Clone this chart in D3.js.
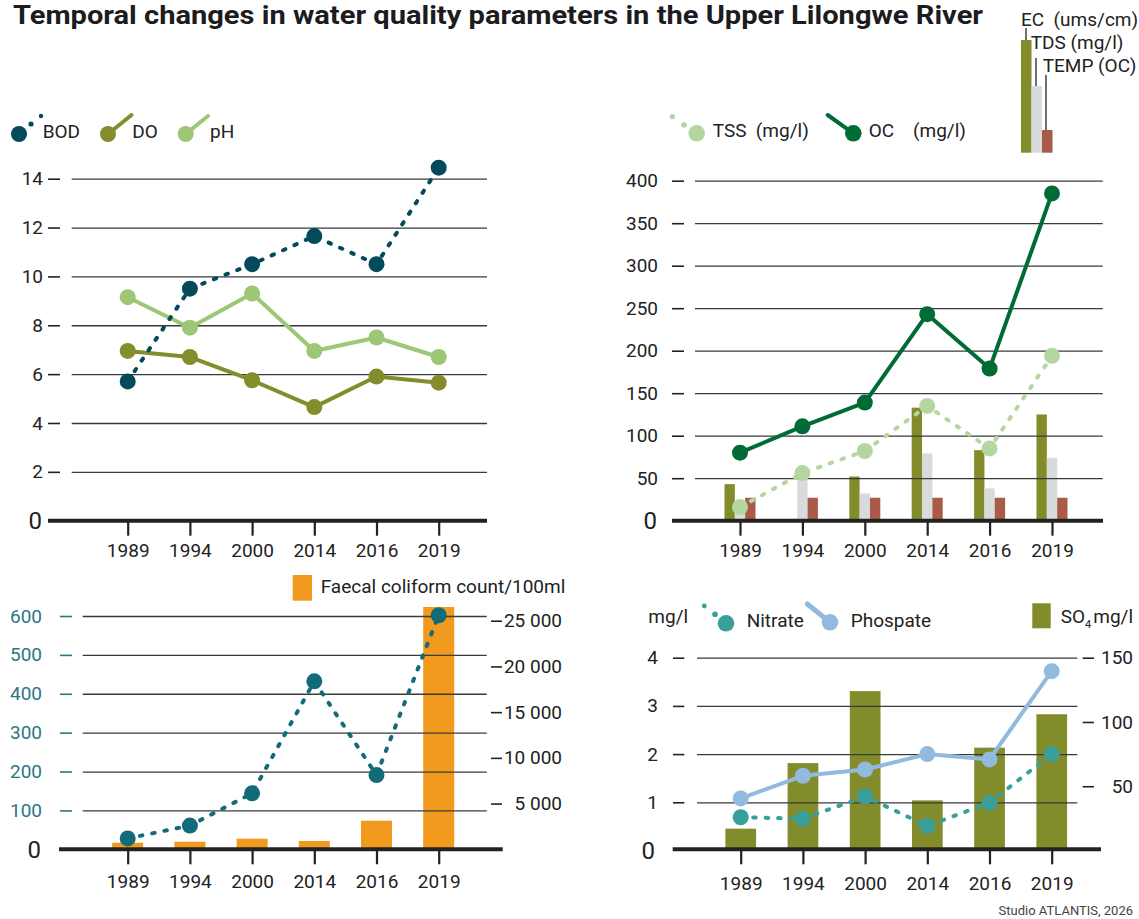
<!DOCTYPE html>
<html>
<head>
<meta charset="utf-8">
<script src="https://cdn.jsdelivr.net/npm/d3@7"></script>
<style>
  body { margin: 0; background: #fff; }
  svg { font-family: Roboto, "Noto Sans", sans-serif; }
  .tick text { font-family: Roboto, sans-serif; }
</style>
</head>
<body>
<div id="chart"></div>
<script>
// categories
var years = ["1989", "1994", "2000", "2014", "2016", "2019"];

// top left panel
var bod = [5.7, 9.5, 10.5, 11.65, 10.5, 14.45];
var doVals = [6.95, 6.7, 5.75, 4.65, 5.9, 5.65];
var ph = [9.15, 7.9, 9.3, 6.95, 7.5, 6.7];
var tlTicks = [2, 4, 6, 8, 10, 12, 14];

// top right panel
var tss = [16, 56, 82, 135, 85, 194];
var oc = [80, 111, 139, 243, 179, 385];
var ec = [43, 0, 52, 133, 83, 125];
var tds = [20, 52, 32, 79, 38, 74];
var temp = [27, 27, 27, 27, 27, 27];
var trTicks = [50, 100, 150, 200, 250, 300, 350, 400];

// bottom left panel
var faecal = [720, 830, 1160, 910, 3130, 26500];
var tealLine = [28, 61, 144, 432, 191, 602];
var blTicksLeft = [100, 200, 300, 400, 500, 600];
var blTicksRight = [5000, 10000, 15000, 20000, 25000];

// bottom right panel
var nitrate = [0.69, 0.66, 1.12, 0.51, 0.99, 2.0];
var phosphate = [1.08, 1.55, 1.68, 2.0, 1.89, 3.72];
var so4 = [17, 68, 124, 39, 80, 106];
var brTicksLeft = [1, 2, 3, 4];
var brTicksRight = [50, 100, 150];

var ink = "#222";
var gridCol = "#3a3a3a";
var fs = 19;

var svg = d3.select("#chart").append("svg")
    .attr("width", 1139)
    .attr("height", 919);

// title
svg.append("text")
    .attr("x", 13)
    .attr("y", 24)
    .attr("font-size", 25)
    .attr("font-weight", "bold")
    .attr("fill", "#1c1c1e")
    .attr("textLength", 970)
    .attr("lengthAdjust", "spacingAndGlyphs")
    .text("Temporal changes in water quality parameters in the Upper Lilongwe River");

// footer
svg.append("text")
    .attr("x", 1133)
    .attr("y", 915)
    .attr("text-anchor", "end")
    .attr("font-size", 13)
    .attr("fill", "#444")
    .text("Studio ATLANTIS, 2026");

function styleAxis(g, col) {
    g.select(".domain").remove();
    g.selectAll(".tick line").attr("stroke", col || ink).attr("stroke-width", 1.6);
    g.selectAll(".tick text").attr("font-size", fs).attr("fill", col || ink);
}

function grid(y, ticks, x0, x1) {
    var g = svg.append("g")
        .attr("transform", "translate(" + x0 + ",0)")
        .call(d3.axisLeft(y).tickValues(ticks).tickSize(-(x1 - x0)).tickFormat(""));
    g.select(".domain").remove();
    g.selectAll(".tick line").attr("stroke", gridCol).attr("stroke-width", 1.3);
}

function baseline(y0, x0, x1) {
    svg.append("line")
        .attr("x1", x0).attr("x2", x1)
        .attr("y1", y0).attr("y2", y0)
        .attr("stroke", ink)
        .attr("stroke-width", 4);
}

function xAxis(x, y0, labelY) {
    var g = svg.append("g")
        .attr("transform", "translate(0," + y0 + ")")
        .call(d3.axisBottom(x).tickSize(15));
    styleAxis(g);
    g.selectAll(".tick line").attr("stroke-width", 2.2);
    g.selectAll(".tick text").attr("dy", 0).attr("y", labelY - y0);
}

function zeroLabel(xr, y0, col) {
    svg.append("text")
        .attr("x", xr)
        .attr("y", y0)
        .attr("dy", "0.36em")
        .attr("text-anchor", "end")
        .attr("font-size", 24)
        .attr("fill", col || ink)
        .text("0");
}

function linePath(x, y, vals, col, dotted) {
    var line = d3.line()
        .x(function(d, i) { return x(years[i]); })
        .y(function(d) { return y(d); });
    var p = svg.append("path")
        .datum(vals)
        .attr("fill", "none")
        .attr("stroke", col)
        .attr("stroke-width", 4)
        .attr("stroke-linejoin", "round")
        .attr("stroke-linecap", "round")
        .attr("d", line);
    if (dotted) p.attr("stroke-dasharray", "2.5 10");
    svg.append("g").selectAll("circle")
        .data(vals)
        .enter().append("circle")
        .attr("cx", function(d, i) { return x(years[i]); })
        .attr("cy", function(d) { return y(d); })
        .attr("r", 8)
        .attr("fill", col);
}

function legendText(x, y, t, size) {
    return svg.append("text")
        .attr("x", x).attr("y", y)
        .attr("font-size", size || fs)
        .attr("fill", ink)
        .style("white-space", "pre")
        .text(t);
}

// ---------- top left ----------
var x1 = d3.scalePoint().domain(years).range([127.7, 438.7]);
var y1 = d3.scaleLinear().domain([0, 14]).range([520.7, 178.7]);

var tlAxis = svg.append("g")
    .attr("transform", "translate(60,0)")
    .call(d3.axisLeft(y1).tickValues(tlTicks).tickSize(12).tickPadding(5));
styleAxis(tlAxis);
zeroLabel(42, y1(0));
grid(y1, tlTicks, 71.7, 487);

linePath(x1, y1, ph, "#9dc675", false);
linePath(x1, y1, doVals, "#848c2b", false);
linePath(x1, y1, bod, "#034a5a", true);

baseline(y1(0), 48, 487);
xAxis(x1, y1(0), 557);

// legend
svg.append("circle").attr("cx", 19).attr("cy", 134).attr("r", 8).attr("fill", "#034a5a");
svg.append("circle").attr("cx", 31).attr("cy", 124).attr("r", 2.6).attr("fill", "#034a5a");
svg.append("circle").attr("cx", 41).attr("cy", 116).attr("r", 2.2).attr("fill", "#034a5a");
legendText(42.7, 137.5, "BOD");
svg.append("line").attr("x1", 108).attr("y1", 134).attr("x2", 131.5).attr("y2", 115)
    .attr("stroke", "#848c2b").attr("stroke-width", 4).attr("stroke-linecap", "round");
svg.append("circle").attr("cx", 108).attr("cy", 134).attr("r", 8).attr("fill", "#848c2b");
legendText(132.3, 137.5, "DO");
svg.append("line").attr("x1", 185.7).attr("y1", 134).attr("x2", 208).attr("y2", 116)
    .attr("stroke", "#9dc675").attr("stroke-width", 4).attr("stroke-linecap", "round");
svg.append("circle").attr("cx", 185.7).attr("cy", 134).attr("r", 8).attr("fill", "#9dc675");
legendText(210, 137.5, "pH");

// ---------- top right ----------
var x2 = d3.scalePoint().domain(years).range([740, 1052]);
var y2 = d3.scaleLinear().domain([0, 400]).range([520.7, 180.7]);
var sub = d3.scaleBand().domain(["ec", "tds", "temp"]).range([-15.5, 15.5]);
var barCols = { ec: "#838c2a", tds: "#d9dadb", temp: "#a95a48" };
var barSets = { ec: ec, tds: tds, temp: temp };

var trAxis = svg.append("g")
    .attr("transform", "translate(684,0)")
    .call(d3.axisLeft(y2).tickValues(trTicks).tickSize(12).tickPadding(14));
styleAxis(trAxis);
zeroLabel(657, y2(0));

sub.domain().forEach(function(k) {
    svg.append("g").selectAll("rect")
        .data(barSets[k])
        .enter().append("rect")
        .attr("x", function(d, i) { return x2(years[i]) + sub(k); })
        .attr("width", sub.bandwidth())
        .attr("y", function(d) { return y2(d); })
        .attr("height", function(d) { return y2(0) - y2(d); })
        .attr("fill", barCols[k]);
});
grid(y2, trTicks, 695, 1102.7);

linePath(x2, y2, tss, "#b5d6a0", true);
linePath(x2, y2, oc, "#006b35", false);

baseline(y2(0), 672, 1103);
xAxis(x2, y2(0), 557);

// legend lines
svg.append("circle").attr("cx", 672.3).attr("cy", 116.7).attr("r", 2.6).attr("fill", "#b5d6a0");
svg.append("circle").attr("cx", 684).attr("cy", 125).attr("r", 2.8).attr("fill", "#b5d6a0");
svg.append("circle").attr("cx", 696.7).attr("cy", 133.3).attr("r", 8.3).attr("fill", "#b5d6a0");
legendText(712.7, 137, "TSS  (mg/l)");
svg.append("line").attr("x1", 827.7).attr("y1", 115).attr("x2", 853.3).attr("y2", 133.3)
    .attr("stroke", "#006b35").attr("stroke-width", 4).attr("stroke-linecap", "round");
svg.append("circle").attr("cx", 853.3).attr("cy", 133.3).attr("r", 8.3).attr("fill", "#006b35");
legendText(868.7, 137, "OC    (mg/l)");

// legend bars
var legBars = [
    { k: "ec", x: 1021, top: 40, label: "EC  (ums/cm)", lx: 1026, ly: 28, tx: 1021, ty: 26 },
    { k: "tds", x: 1031.5, top: 86, label: "TDS (mg/l)", lx: 1036, ly: 58, tx: 1030.7, ty: 48.5 },
    { k: "temp", x: 1042, top: 130, label: "TEMP (OC)", lx: 1046, ly: 75, tx: 1042.7, ty: 72 }
];
legBars.forEach(function(b) {
    svg.append("rect").attr("x", b.x).attr("y", b.top).attr("width", 10.5)
        .attr("height", 152.7 - b.top).attr("fill", barCols[b.k]);
    svg.append("line").attr("x1", b.lx).attr("x2", b.lx).attr("y1", b.ly).attr("y2", b.top)
        .attr("stroke", ink).attr("stroke-width", 1.3);
    legendText(b.tx, b.ty, b.label);
});

// ---------- bottom left ----------
var x3 = d3.scalePoint().domain(years).range([127.7, 438.7]);
var y3 = d3.scaleLinear().domain([0, 600]).range([849.3, 616]);
var y3r = d3.scaleLinear().domain([0, 25000]).range([849.3, 620.7]);
var tealAx = "#2b7685";

var blAxis = svg.append("g")
    .attr("transform", "translate(72,0)")
    .call(d3.axisLeft(y3).tickValues(blTicksLeft).tickSize(12).tickPadding(18));
styleAxis(blAxis, tealAx);
zeroLabel(41, y3(0));

svg.append("g").selectAll("rect")
    .data(faecal)
    .enter().append("rect")
    .attr("x", function(d, i) { return x3(years[i]) - 15.5; })
    .attr("width", 31)
    .attr("y", function(d) { return y3r(d); })
    .attr("height", function(d) { return y3r(0) - y3r(d); })
    .attr("fill", "#f29a1d");
grid(y3, blTicksLeft, 82.7, 486.7);

var blRight = svg.append("g")
    .attr("transform", "translate(491,0)")
    .call(d3.axisRight(y3r).tickValues(blTicksRight).tickSize(11).tickPadding(3)
        .tickFormat(function(d) { return d3.format(",")(d).replace(",", " "); }));
styleAxis(blRight);
blRight.selectAll(".tick text").attr("text-anchor", "end").attr("x", 71);

linePath(x3, y3, tealLine, "#136a78", true);

baseline(y3(0), 59, 502.7);
xAxis(x3, y3(0), 888);

svg.append("rect").attr("x", 292.7).attr("y", 575).attr("width", 19.3).attr("height", 25.7)
    .attr("fill", "#f29a1d");
legendText(320.7, 593, "Faecal coliform count/100ml");

// ---------- bottom right ----------
var x4 = d3.scalePoint().domain(years).range([740.7, 1051.7]);
var y4 = d3.scaleLinear().domain([0, 4]).range([850.5, 657.7]);
var y4r = d3.scaleLinear().domain([0, 150]).range([850.5, 657.7]);

var brAxis = svg.append("g")
    .attr("transform", "translate(684.3,0)")
    .call(d3.axisLeft(y4).tickValues(brTicksLeft).tickSize(11.3).tickPadding(15)
        .tickFormat(d3.format("d")));
styleAxis(brAxis);
zeroLabel(655, y4(0));

svg.append("g").selectAll("rect")
    .data(so4)
    .enter().append("rect")
    .attr("x", function(d, i) { return x4(years[i]) - 15.3; })
    .attr("width", 30.7)
    .attr("y", function(d) { return y4r(d); })
    .attr("height", function(d) { return y4r(0) - y4r(d); })
    .attr("fill", "#838c2a");
grid(y4, brTicksLeft, 697, 1077.3);

var brRight = svg.append("g")
    .attr("transform", "translate(1082.7,0)")
    .call(d3.axisRight(y4r).tickValues(brTicksRight).tickSize(11.3).tickPadding(5));
styleAxis(brRight);
brRight.selectAll(".tick text").attr("text-anchor", "end").attr("x", 50.3);

linePath(x4, y4, phosphate, "#92bade", false);
linePath(x4, y4, nitrate, "#3a9e9b", true);

baseline(y4(0) - 1.2, 672.7, 1101);
xAxis(x4, y4(0) - 1.2, 890);

// legend
legendText(648.3, 623, "mg/l");
svg.append("circle").attr("cx", 704.3).attr("cy", 606).attr("r", 2.4).attr("fill", "#3a9e9b");
svg.append("circle").attr("cx", 715).attr("cy", 614.3).attr("r", 2.8).attr("fill", "#3a9e9b");
svg.append("circle").attr("cx", 726).attr("cy", 623.3).attr("r", 8.3).attr("fill", "#3a9e9b");
legendText(746.7, 627, "Nitrate");
svg.append("line").attr("x1", 807.3).attr("y1", 604).attr("x2", 830).attr("y2", 622.3)
    .attr("stroke", "#92bade").attr("stroke-width", 5).attr("stroke-linecap", "round");
svg.append("circle").attr("cx", 830).attr("cy", 622.3).attr("r", 8.3).attr("fill", "#92bade");
legendText(850.7, 627, "Phospate");
svg.append("rect").attr("x", 1032.3).attr("y", 603.3).attr("width", 18.4).attr("height", 25)
    .attr("fill", "#838c2a");
var so4t = legendText(1060.7, 623, "SO");
so4t.append("tspan").attr("font-size", 11).attr("dy", 5).text("4");
so4t.append("tspan").attr("dy", -5).attr("dx", 2).text("mg/l");
</script>
</body>
</html>
